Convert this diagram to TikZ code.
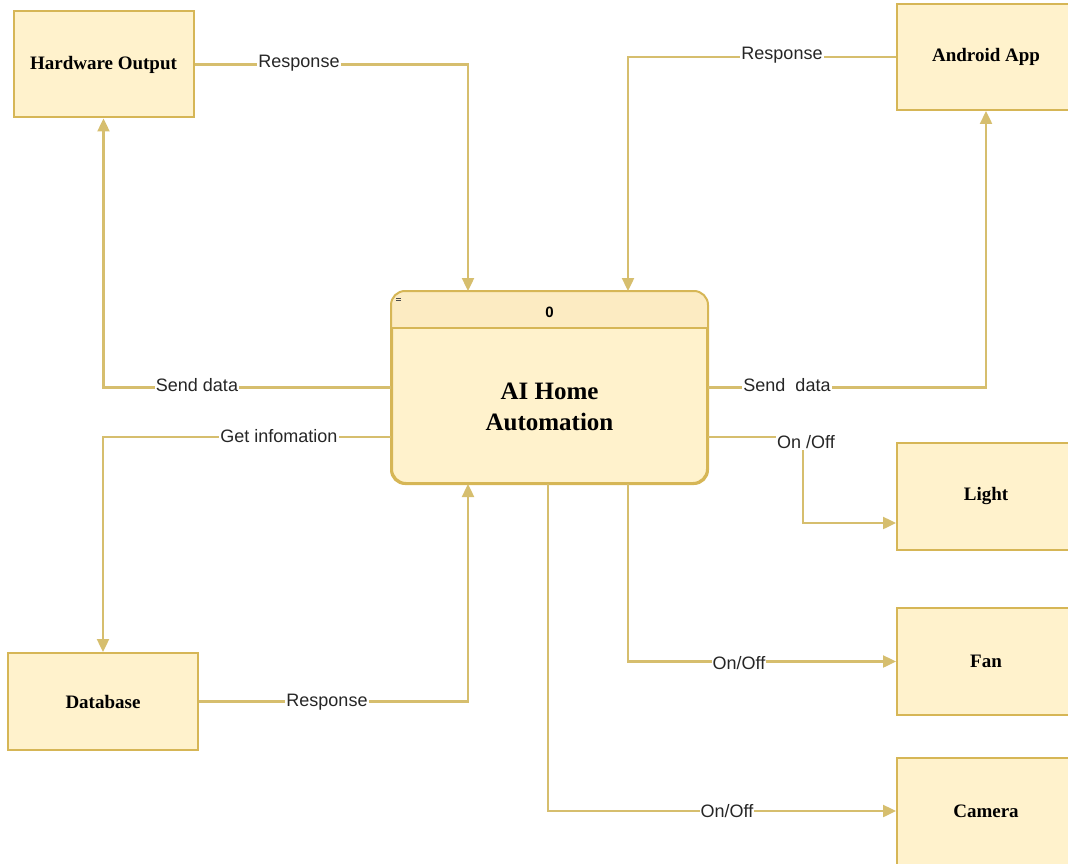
\documentclass[tikz,border=0pt]{standalone}
\usepackage{fontspec}
\setmainfont{Liberation Serif}
\setsansfont{Liberation Sans}
\usetikzlibrary{arrows.meta,calc}
\definecolor{boxfill}{HTML}{FFF2CC}
\definecolor{headfill}{HTML}{FCEBC2}
\definecolor{boxline}{HTML}{D6B656}
\definecolor{arrline}{HTML}{D6BE6E}
\tikzset{
  ent/.style={draw=boxline,fill=boxfill,line width=2pt,minimum width=180pt,minimum height=106pt,inner sep=0pt,font=\fontsize{19}{22}\selectfont\bfseries},
  arr/.style={draw=arrline,line width=2.4pt,-{Triangle[length=13pt,width=12pt]}},
  lbl/.style={fill=white,inner sep=1pt,font=\sffamily\fontsize{18}{21}\selectfont,text=black!85}
}
\begin{document}
\begin{tikzpicture}[x=1pt,y=-1pt]
\useasboundingbox (0,0) rectangle (1068,864);
\clip (0,0) rectangle (1068,864);
% entities
\node[ent] (hw) at (103.5,64.5) {Hardware Output};
\node[ent,minimum width=178pt] (and) at (986,57) {Android App};
\node[ent,minimum width=178pt,minimum height=107pt] (light) at (986,496.5) {Light};
\node[ent,minimum width=178pt,minimum height=107pt] (fan) at (986,661.5) {Fan};
\node[ent,minimum width=178pt,minimum height=107pt] (cam) at (986,811) {Camera};
\node[ent,minimum width=190pt,minimum height=97pt] (db) at (103,701.5) {Database};
% central process
\node[draw=boxline,fill=boxfill,line width=2pt,rounded corners=14pt,minimum width=315pt,minimum height=191pt,inner sep=0pt] (c) at (549.5,387.5) {};
\begin{scope}
\clip[rounded corners=14pt] (c.north west) rectangle (c.south east);
\fill[headfill] (c.north west) rectangle ($(c.north east)+(0,37)$);
\end{scope}
\draw[draw=boxline,line width=2pt,rounded corners=14pt] (c.north west) rectangle (c.south east);
\draw[boxline,line width=2pt] ($(c.north west)+(0,37)$) -- ($(c.north east)+(0,37)$);
\node[font=\sffamily\bfseries\fontsize{15}{18}\selectfont] (c0) at (549.5,312) {0};
\node[align=center,font=\fontsize{25}{31}\selectfont\bfseries] (ct) at (549.5,407) {AI Home\\Automation};
\draw[black!70,line width=0.6pt] (396,298.5) -- (401,298.5) (396,300.5) -- (401,300.5);
% helper coordinates
\coordinate (x1) at (468,0);
\coordinate (x2) at (628,0);
\coordinate (x3) at (548,0);
\coordinate (x4) at (803,0);
\coordinate (y1) at (0,437);
\coordinate (y2) at (0,523);
% connectors
\draw[arr] (hw.east) -| (c.north -| x1);
\draw[arr] (and.west) -| (c.north -| x2);
\draw[arr] (c.west) -| (hw.south);
\draw[arr] (c.west |- y1) -| (db.north);
\draw[arr] (db.east) -| (c.south -| x1);
\draw[arr] (c.east) -| (and.south);
\draw[arr] (c.east |- y1) -| (x4 |- y2) -- (light.west |- y2);
\draw[arr] (c.south -| x2) |- (fan.west);
\draw[arr] (c.south -| x3) |- (cam.west);
% labels
\node[lbl] (l1) at (299,63) {Response};
\node[lbl] (l2) at (782,55) {Response};
\node[lbl] (l3) at (197,385) {Send data};
\node[lbl] (l4) at (279,436) {Get infomation};
\node[lbl] (l5) at (327,702) {Response};
\node[lbl] (l6) at (787,385) {Send\ \ data};
\node[lbl] (l7) at (806,442) {On /Off};
\node[lbl] (l8) at (739,663) {On/Off};
\node[lbl] (l9) at (727,811) {On/Off};
\end{tikzpicture}
\end{document}
